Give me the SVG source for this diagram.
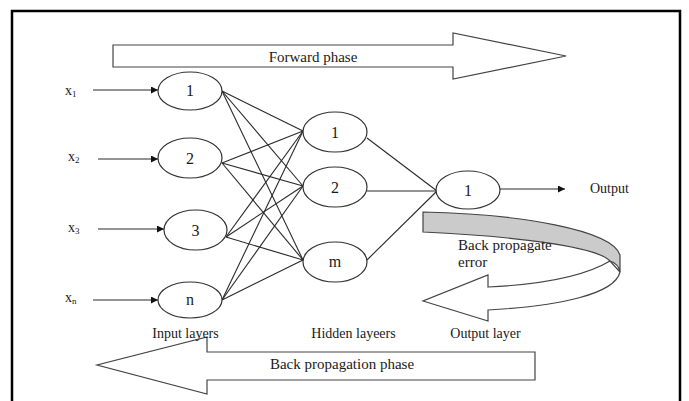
<svg xmlns="http://www.w3.org/2000/svg" width="689" height="401" viewBox="0 0 689 401">
<defs>
<style>
text{font-family:"Liberation Serif","Times New Roman",serif;fill:#1a1a1a}
.node ellipse{fill:#fff;stroke:#333;stroke-width:1.2}
.node text{font-size:16px;text-anchor:middle}
.lbl{font-size:14px;text-anchor:middle}
.conn line{stroke:#2a2a2a;stroke-width:1.1}
.inarrow{stroke:#111;stroke-width:1.6;marker-end:url(#ah)}
.big{fill:#fff;stroke:#444;stroke-width:1.2}
.xl{font-size:14px}
.sub{font-size:9px}
</style>
<marker id="ah" viewBox="0 0 10 10" refX="10" refY="5" markerWidth="7" markerHeight="7" markerUnits="userSpaceOnUse" orient="auto"><path d="M0,0 L10,5 L0,10 Z" fill="#111"/></marker>
</defs>
<rect width="689" height="401" fill="#fff"/>
<path d="M12,401 V11 H680 V401" fill="none" stroke="#000" stroke-width="2.5"/>

<g id="forward-phase">
<path class="big" d="M113,45 H453 V33 L566,56 L453,79 V67 H113 Z"/>
<text x="313" y="62" style="font-size:15px;text-anchor:middle">Forward phase</text>
</g>

<g id="back-propagation-phase">
<path class="big" d="M535,352 H207 V337 L97,365 L207,394 V380 H535 Z"/>
<text x="342" y="369" style="font-size:15px;text-anchor:middle">Back propagation phase</text>
</g>

<g id="back-propagate-error">
<path d="M610,261 C580,279 530,285 488,287 L488,275 L423,301 L488,321 L488,310 C560,306 615,294 620,272 Z" fill="#fff" stroke="#444" stroke-width="1.2"/>
<path d="M423,212 C520,214 612,230 620,255 L620,272 C619,266 616,263 610,261 C596,246 510,236 423,232 Z" fill="#cbcbcb" stroke="#444" stroke-width="1.2"/>
<text x="458" y="250" style="font-size:15px">Back propagate</text>
<text x="458" y="267" style="font-size:15px">error</text>
</g>

<g id="connectors" class="conn">
<line x1="222" y1="91" x2="303" y2="131"/>
<line x1="222" y1="91" x2="303" y2="186"/>
<line x1="222" y1="91" x2="303" y2="260"/>
<line x1="222" y1="163" x2="303" y2="131"/>
<line x1="222" y1="163" x2="303" y2="186"/>
<line x1="222" y1="163" x2="303" y2="260"/>
<line x1="226" y1="237" x2="303" y2="131"/>
<line x1="226" y1="237" x2="303" y2="186"/>
<line x1="226" y1="237" x2="303" y2="260"/>
<line x1="222" y1="300" x2="303" y2="131"/>
<line x1="222" y1="300" x2="303" y2="186"/>
<line x1="222" y1="300" x2="303" y2="260"/>
<line x1="367" y1="138" x2="437" y2="191"/>
<line x1="367" y1="191" x2="437" y2="191"/>
<line x1="367" y1="260" x2="437" y2="191"/>
<line class="inarrow" x1="93" y1="90" x2="158" y2="90"/>
<line class="inarrow" x1="98" y1="159" x2="158" y2="159"/>
<line class="inarrow" x1="98" y1="229" x2="164" y2="229"/>
<line class="inarrow" x1="93" y1="300" x2="158" y2="300"/>
<line class="inarrow" x1="500" y1="189" x2="565" y2="189"/>
</g>

<g id="in1" class="node"><ellipse cx="190" cy="91" rx="32" ry="19"/><text x="190" y="96">1</text></g>
<g id="in2" class="node"><ellipse cx="190" cy="158" rx="32" ry="20"/><text x="190" y="164">2</text></g>
<g id="in3" class="node"><ellipse cx="195.5" cy="230" rx="31.5" ry="20"/><text x="195.5" y="236">3</text></g>
<g id="inn" class="node"><ellipse cx="190" cy="300" rx="32" ry="18"/><text x="190" y="305">n</text></g>
<g id="h1" class="node"><ellipse cx="335" cy="132" rx="32" ry="20"/><text x="335" y="138">1</text></g>
<g id="h2" class="node"><ellipse cx="335" cy="187" rx="32" ry="20"/><text x="335" y="193">2</text></g>
<g id="hm" class="node"><ellipse cx="335" cy="262" rx="32" ry="20"/><text x="335" y="267">m</text></g>
<g id="out1" class="node"><ellipse cx="468" cy="190" rx="32" ry="19"/><text x="468" y="196">1</text></g>

<g id="labels">
<text class="xl" x="65" y="95">x<tspan class="sub" dy="2">1</tspan></text>
<text class="xl" x="68" y="161">x<tspan class="sub" dy="2">2</tspan></text>
<text class="xl" x="68" y="232">x<tspan class="sub" dy="2">3</tspan></text>
<text class="xl" x="65" y="302">x<tspan class="sub" dy="2">n</tspan></text>
<text x="590" y="193" style="font-size:14px">Output</text>
<text class="lbl" x="185.5" y="338">Input layers</text>
<text class="lbl" x="353.5" y="338">Hidden layeers</text>
<text class="lbl" x="485.5" y="338">Output layer</text>
</g>
</svg>
